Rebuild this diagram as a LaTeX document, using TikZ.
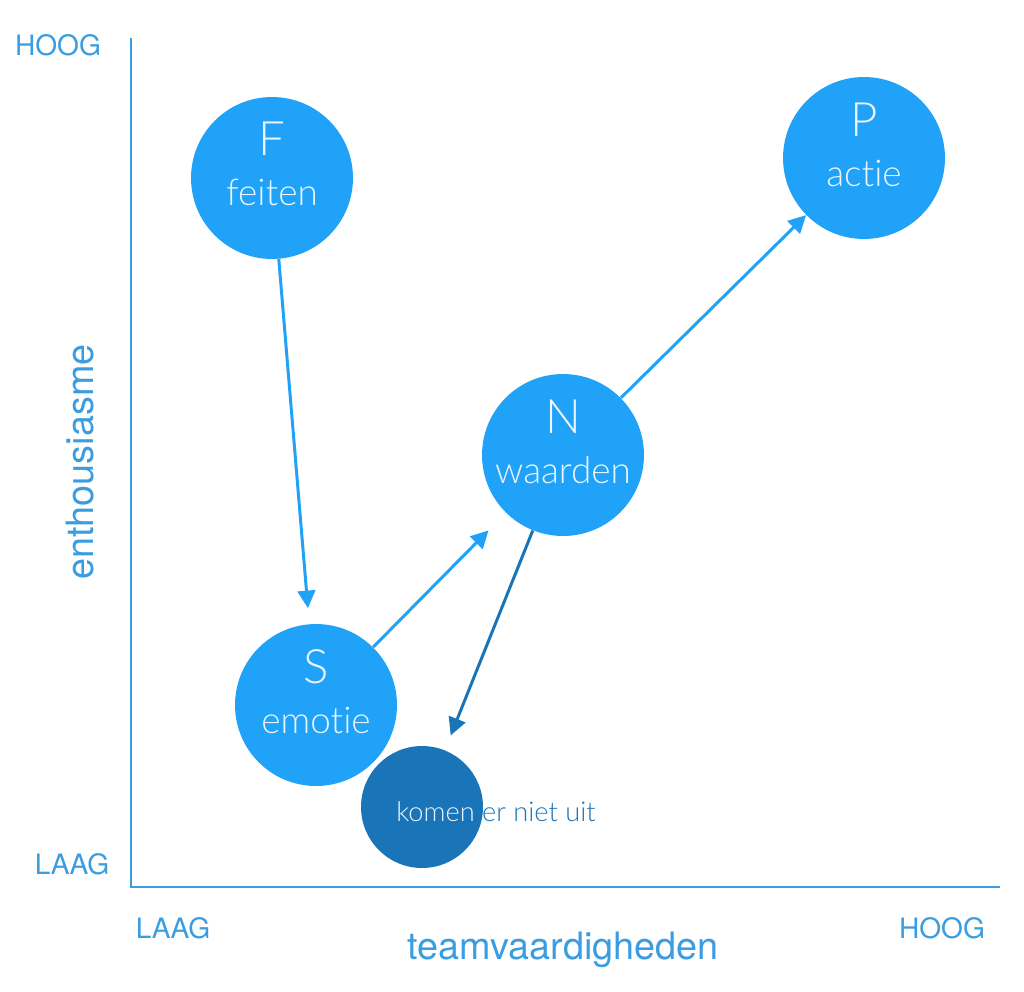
\documentclass[tikz,border=0pt]{standalone}
\usepackage{fontspec}
\setmainfont{TeX Gyre Heros}
\newfontfamily\thinfont{Lato Light}[Ligatures={NoCommon,NoRare}]
\usetikzlibrary{arrows.meta,positioning}
\definecolor{axisblue}{HTML}{3A9DE2}
\definecolor{bubbleblue}{HTML}{1FA2F7}
\definecolor{stuckblue}{HTML}{1A74B8}
\definecolor{bubbletext}{HTML}{EAF5FF}

\begin{document}
\begin{tikzpicture}[x=0.02cm,y=-0.02cm,
  >={Triangle[length=10pt,width=10pt]},
  bubble/.style={circle,fill=bubbleblue,minimum size=3.24cm,inner sep=0pt},
  letter/.style={text=bubbletext,font=\thinfont\fontsize{27}{31}\selectfont},
  word/.style={text=bubbletext,font=\thinfont\fontsize{21}{25}\selectfont},
  axislabel/.style={text=axisblue,font=\fontsize{16}{19}\selectfont},
  axistitle/.style={text=axisblue,font=\fontsize{21.5}{25}\selectfont},
  flow/.style={->,draw=bubbleblue,line width=1.7pt}]
\useasboundingbox (0,0) rectangle (1024,991);
% axes
\coordinate (origin) at (131,887);
\coordinate (ytop) at (131,38);
\coordinate (xend) at (1000,887);
\draw[axisblue,line width=1.1pt] (ytop) -- (origin) -- (xend);
\node[axislabel] (yhigh) at (58,45) {HOOG};
\node[axislabel] (ylow) at (72,864) {LAAG};
\node[axislabel] (xlow) at (173,928) {LAAG};
\node[axislabel] (xhigh) at (942,928) {HOOG};
\node[axistitle] (xtitle) at (563,950) {teamvaardigheden};
\node[axistitle,rotate=90] (ytitle) at (80,462) {enthousiasme};
% stages
\node[bubble] (F) at (272,178) {};
\node[bubble] (P) at (864,158) {};
\node[bubble] (N) at (563,455) {};
\node[bubble] (S) at (316,705) {};
\node[circle,fill=stuckblue,minimum size=2.44cm,inner sep=0pt] (stuck) at (422,807) {};
\node[letter] (Fletter) at (272,139) {F};
\node[word] (Fword) at (272,192) {feiten};
\node[letter] (Pletter) at (864,120) {P};
\node[word] (Pword) at (864,173) {actie};
\node[letter] (Nletter) at (563,417) {N};
\node[word] (Nword) at (563,470) {waarden};
\node[letter] (Sletter) at (316,667) {S};
\node[word] (Sword) at (316,720) {emotie};
% label half inside, half outside the dark circle
\node[text=stuckblue,font=\thinfont\fontsize{15.5}{18}\selectfont] (stucktext) at (496,812) {komen er niet uit};
\begin{scope}
  \clip (stuck.center) circle[radius=1.22cm];
  \node[text=bubbletext,font=\thinfont\fontsize{15.5}{18}\selectfont] at (496,812) {komen er niet uit};
\end{scope}
% route
\draw[flow,shorten >=9pt] (F) -- (S);
\draw[flow,shorten >=14pt] (S) -- (N);
\draw[flow] (N) -- (P);
\draw[flow,draw=stuckblue,shorten >=9pt] (N) -- (stuck);
\end{tikzpicture}
\end{document}
